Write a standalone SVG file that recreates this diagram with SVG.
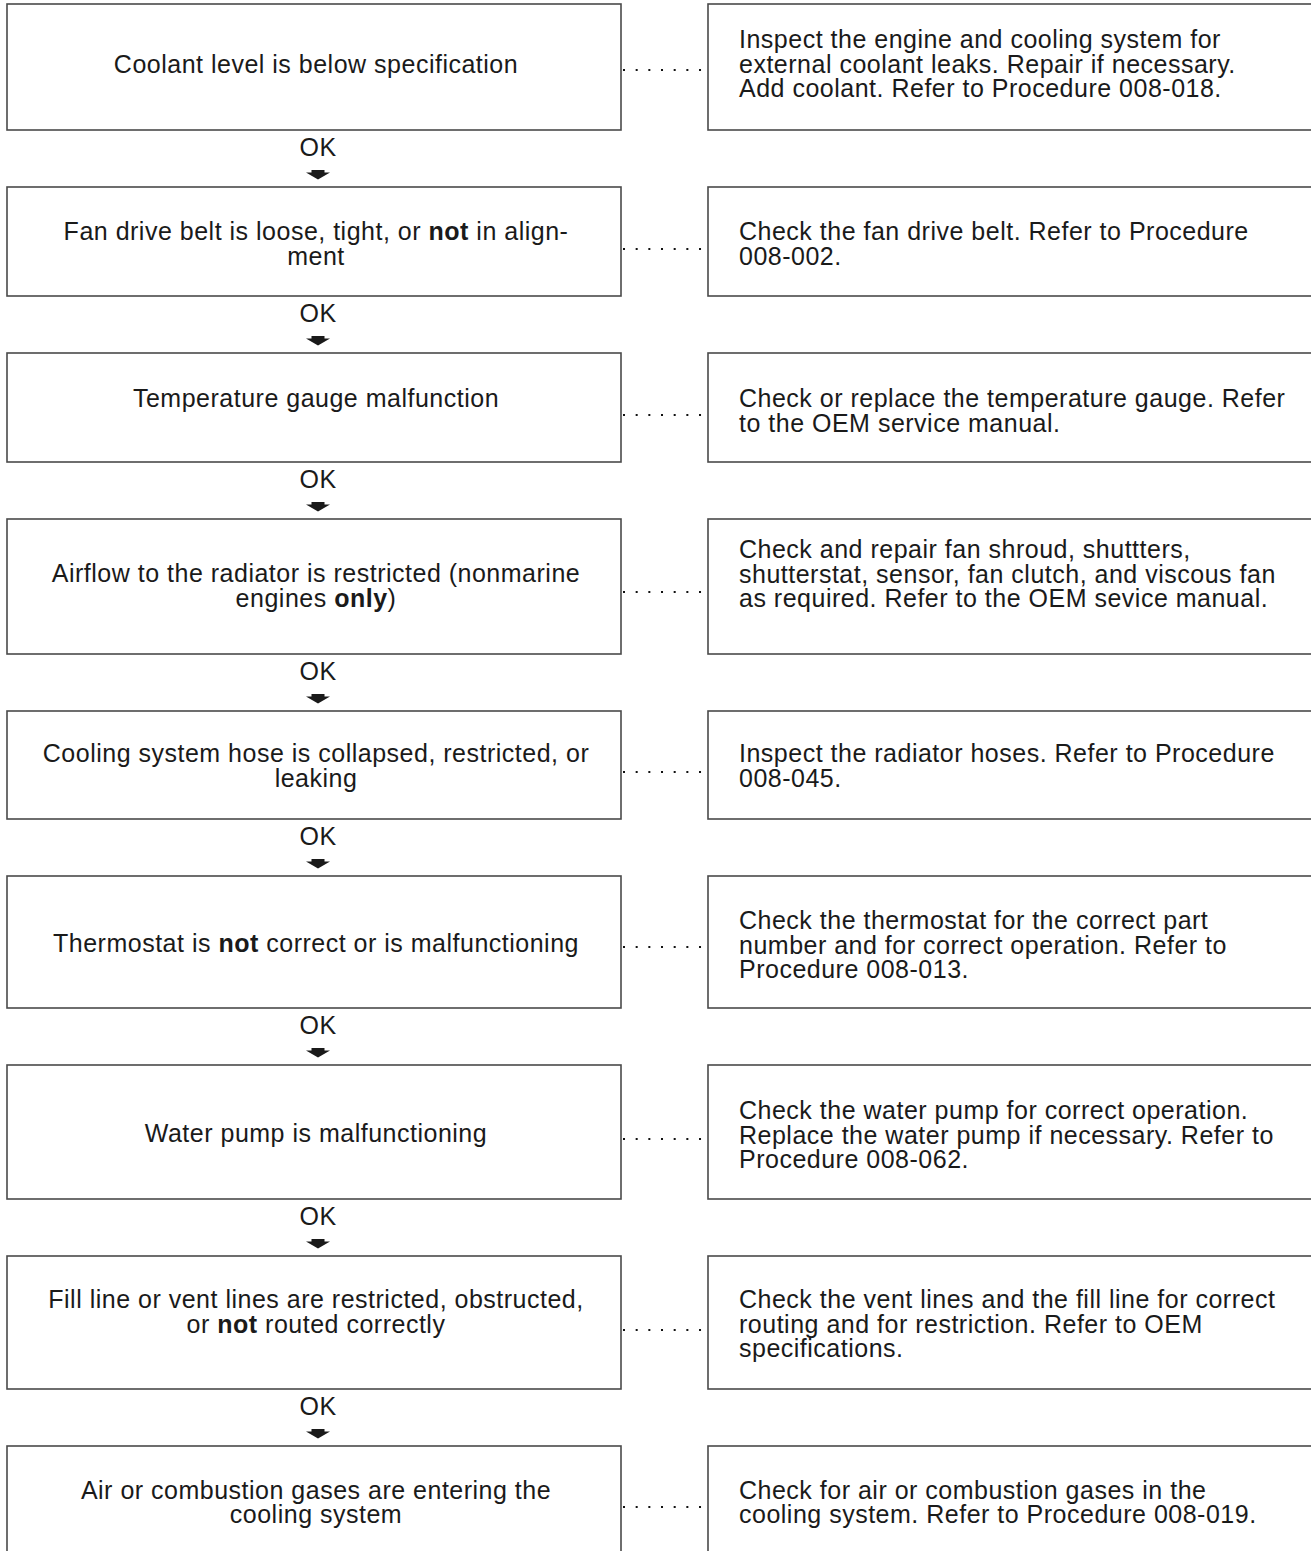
<svg xmlns="http://www.w3.org/2000/svg" width="1311" height="1551" viewBox="0 0 1311 1551">
<style>
  .box { fill: #ffffff; stroke: #4a4a4a; stroke-width: 1.6; }
  .t { font-family: "Liberation Sans", Arial, Helvetica, sans-serif; font-size: 25px; letter-spacing: 0.5px; fill: #1a1a1a; }
  .c { text-anchor: middle; }
  .b { font-weight: bold; }
  .dots { stroke: #111; stroke-width: 2; stroke-dasharray: 2 10.67; fill: none; }
  .arrowhead { fill: #1a1a1a; }
</style>
<defs>
  <path id="okarrow" class="arrowhead" d="M-6.5,0 H6.5 V2.5 H12 L0,9.5 L-12,2.5 H-6.5 Z"/>
</defs>
<rect x="0" y="0" width="1311" height="1551" fill="#ffffff"/>

<g id="connectors">
  <line class="dots" x1="623" y1="70" x2="706" y2="70"/>
  <line class="dots" x1="623" y1="249" x2="706" y2="249"/>
  <line class="dots" x1="623" y1="415" x2="706" y2="415"/>
  <line class="dots" x1="623" y1="592" x2="706" y2="592"/>
  <line class="dots" x1="623" y1="772" x2="706" y2="772"/>
  <line class="dots" x1="623" y1="947" x2="706" y2="947"/>
  <line class="dots" x1="623" y1="1139" x2="706" y2="1139"/>
  <line class="dots" x1="623" y1="1330" x2="706" y2="1330"/>
  <line class="dots" x1="623" y1="1507" x2="706" y2="1507"/>

  <text class="t c" x="318" y="155.5">OK</text>
  <use href="#okarrow" x="318" y="170"/>
  <text class="t c" x="318" y="321.5">OK</text>
  <use href="#okarrow" x="318" y="336"/>
  <text class="t c" x="318" y="487.5">OK</text>
  <use href="#okarrow" x="318" y="502"/>
  <text class="t c" x="318" y="679.5">OK</text>
  <use href="#okarrow" x="318" y="694"/>
  <text class="t c" x="318" y="844.5">OK</text>
  <use href="#okarrow" x="318" y="859"/>
  <text class="t c" x="318" y="1033.5">OK</text>
  <use href="#okarrow" x="318" y="1048"/>
  <text class="t c" x="318" y="1224.5">OK</text>
  <use href="#okarrow" x="318" y="1239"/>
  <text class="t c" x="318" y="1414.5">OK</text>
  <use href="#okarrow" x="318" y="1429"/>
</g>

<g id="cond1">
  <rect class="box" x="7" y="4" width="614" height="126"/>
  <text class="t c" x="316" y="72.5">Coolant level is below specification</text>
</g>
<g id="action1">
  <rect class="box" x="708" y="4" width="620" height="126"/>
  <text class="t" x="739" y="48">Inspect the engine and cooling system for<tspan x="739" dy="24.5">external coolant leaks. Repair if necessary.</tspan><tspan x="739" dy="24.5">Add coolant. Refer to Procedure 008-018.</tspan></text>
</g>

<g id="cond2">
  <rect class="box" x="7" y="187" width="614" height="109"/>
  <text class="t c" x="316" y="240">Fan drive belt is loose, tight, or <tspan class="b">not</tspan> in align-<tspan x="316" dy="24.5">ment</tspan></text>
</g>
<g id="action2">
  <rect class="box" x="708" y="187" width="620" height="109"/>
  <text class="t" x="739" y="240">Check the fan drive belt. Refer to Procedure<tspan x="739" dy="24.5">008-002.</tspan></text>
</g>

<g id="cond3">
  <rect class="box" x="7" y="353" width="614" height="109"/>
  <text class="t c" x="316" y="407">Temperature gauge malfunction</text>
</g>
<g id="action3">
  <rect class="box" x="708" y="353" width="620" height="109"/>
  <text class="t" x="739" y="407">Check or replace the temperature gauge. Refer<tspan x="739" dy="24.5">to the OEM service manual.</tspan></text>
</g>

<g id="cond4">
  <rect class="box" x="7" y="519" width="614" height="135"/>
  <text class="t c" x="316" y="582">Airflow to the radiator is restricted (nonmarine<tspan x="316" dy="24.5">engines <tspan class="b">only</tspan>)</tspan></text>
</g>
<g id="action4">
  <rect class="box" x="708" y="519" width="620" height="135"/>
  <text class="t" x="739" y="558">Check and repair fan shroud, shuttters,<tspan x="739" dy="24.5">shutterstat, sensor, fan clutch, and viscous fan</tspan><tspan x="739" dy="24.5">as required. Refer to the OEM sevice manual.</tspan></text>
</g>

<g id="cond5">
  <rect class="box" x="7" y="711" width="614" height="108"/>
  <text class="t c" x="316" y="762">Cooling system hose is collapsed, restricted, or<tspan x="316" dy="24.5">leaking</tspan></text>
</g>
<g id="action5">
  <rect class="box" x="708" y="711" width="620" height="108"/>
  <text class="t" x="739" y="762">Inspect the radiator hoses. Refer to Procedure<tspan x="739" dy="24.5">008-045.</tspan></text>
</g>

<g id="cond6">
  <rect class="box" x="7" y="876" width="614" height="132"/>
  <text class="t c" x="316" y="952">Thermostat is <tspan class="b">not</tspan> correct or is malfunctioning</text>
</g>
<g id="action6">
  <rect class="box" x="708" y="876" width="620" height="132"/>
  <text class="t" x="739" y="929">Check the thermostat for the correct part<tspan x="739" dy="24.5">number and for correct operation. Refer to</tspan><tspan x="739" dy="24.5">Procedure 008-013.</tspan></text>
</g>

<g id="cond7">
  <rect class="box" x="7" y="1065" width="614" height="134"/>
  <text class="t c" x="316" y="1142">Water pump is malfunctioning</text>
</g>
<g id="action7">
  <rect class="box" x="708" y="1065" width="620" height="134"/>
  <text class="t" x="739" y="1119">Check the water pump for correct operation.<tspan x="739" dy="24.5">Replace the water pump if necessary. Refer to</tspan><tspan x="739" dy="24.5">Procedure 008-062.</tspan></text>
</g>

<g id="cond8">
  <rect class="box" x="7" y="1256" width="614" height="133"/>
  <text class="t c" x="316" y="1308">Fill line or vent lines are restricted, obstructed,<tspan x="316" dy="25">or <tspan class="b">not</tspan> routed correctly</tspan></text>
</g>
<g id="action8">
  <rect class="box" x="708" y="1256" width="620" height="133"/>
  <text class="t" x="739" y="1308">Check the vent lines and the fill line for correct<tspan x="739" dy="24.5">routing and for restriction. Refer to OEM</tspan><tspan x="739" dy="24.5">specifications.</tspan></text>
</g>

<g id="cond9">
  <rect class="box" x="7" y="1446" width="614" height="130"/>
  <text class="t c" x="316" y="1498.5">Air or combustion gases are entering the<tspan x="316" dy="24.5">cooling system</tspan></text>
</g>
<g id="action9">
  <rect class="box" x="708" y="1446" width="620" height="130"/>
  <text class="t" x="739" y="1498.5">Check for air or combustion gases in the<tspan x="739" dy="24.5">cooling system. Refer to Procedure 008-019.</tspan></text>
</g>
</svg>
